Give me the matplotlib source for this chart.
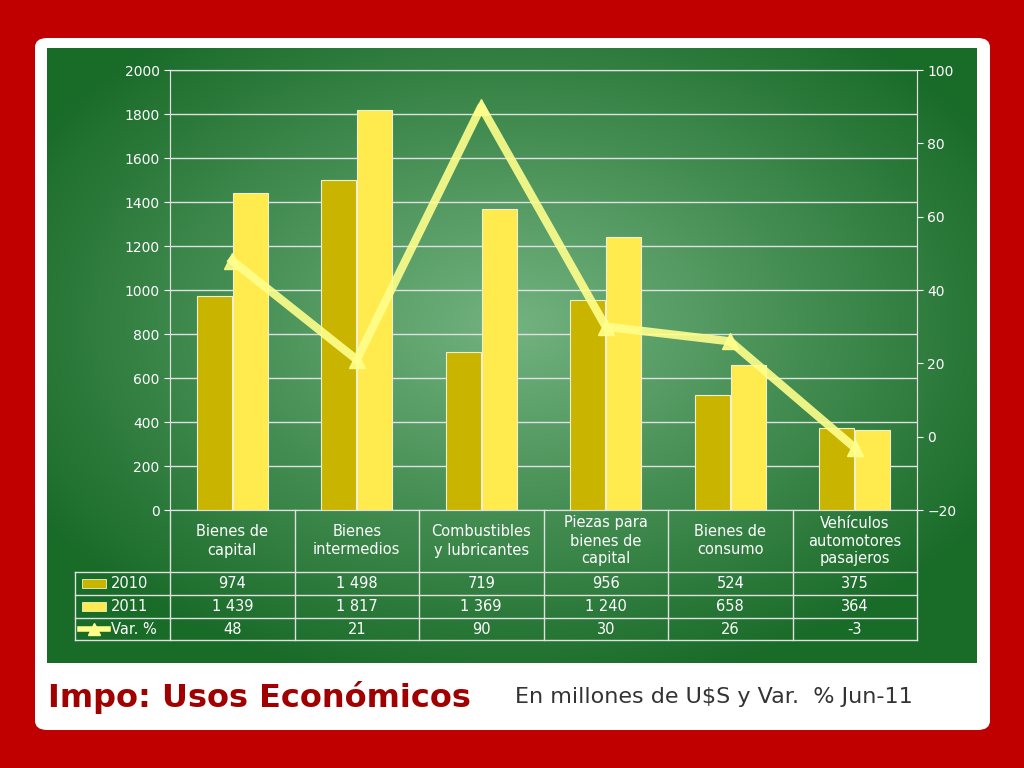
import matplotlib
matplotlib.use("Agg")
import matplotlib.pyplot as plt
import numpy as np
from matplotlib.patches import FancyBboxPatch, Rectangle
from matplotlib.lines import Line2D

categories = ["Bienes de\ncapital", "Bienes\nintermedios", "Combustibles\ny lubricantes",
              "Piezas para\nbienes de\ncapital", "Bienes de\nconsumo", "Vehículos\nautomotores\npasajeros"]
v2010 = [974, 1498, 719, 956, 524, 375]
v2011 = [1439, 1817, 1369, 1240, 658, 364]
var = [48, 21, 90, 30, 26, -3]
series_names = ["2010", "2011", "Var. %"]

W, H = 1024, 768
fig = plt.figure(figsize=(10.24, 7.68), dpi=100)
fig.patch.set_facecolor("#C00000")

def px(x, y):
    return x / W, 1 - y / H

wp = FancyBboxPatch(px(35, 730), 955 / W, 692 / H, boxstyle="round,pad=0,rounding_size=0.012",
                    transform=fig.transFigure, facecolor="white", edgecolor="none", zorder=-10)
fig.add_artist(wp)

bg = fig.add_axes([47 / W, 1 - 663 / H, 930 / W, 615 / H], zorder=-5)
yy, xx = np.mgrid[-1:1:300j, -1:1:400j]
r = np.clip(np.sqrt(xx**2 + (yy + 0.1)**2) / 1.2, 0, 1)
c0 = np.array([0.45, 0.70, 0.50]); c1 = np.array([0.10, 0.42, 0.16])
img = c0[None, None, :] * (1 - r[..., None]) + c1[None, None, :] * r[..., None]
bg.imshow(img, aspect="auto", extent=[0, 1, 0, 1])
bg.axis("off")

ax = fig.add_axes([170 / W, 1 - 510 / H, 747 / W, 440 / H], zorder=1)
ax.patch.set_alpha(0)
x = np.arange(len(categories))
bw = 0.28
ax.bar(x - 0.145, v2010, bw, color="#C9B400", edgecolor="#F0F0D0", linewidth=0.8, zorder=3)
ax.bar(x + 0.145, v2011, bw, color="#FFEB4D", edgecolor="#F0F0D0", linewidth=0.8, zorder=3)
ax.set_xlim(-0.5, len(categories) - 0.5)
ax.set_ylim(0, 2000)
ax.set_yticks(range(0, 2001, 200))
ax.grid(axis="y", color="#E0E0E0", linewidth=1, zorder=0)
ax.set_xticks([])
for s in ax.spines.values():
    s.set_color("#E0E0E0")
ax.tick_params(axis="y", colors="white", labelsize=10, length=4)

ax2 = ax.twinx()
ax2.set_ylim(-20, 100)
ax2.set_yticks(range(-20, 101, 20))
ax2.plot(x, var, color="#FFFF8C", linewidth=6, marker="^", markersize=12, zorder=5, alpha=0.9)
ax2.tick_params(axis="y", colors="white", labelsize=10, length=4)
for s in ax2.spines.values():
    s.set_color("#E0E0E0")

lc = "#E0E0E0"
def hline(y, x0, x1):
    fig.add_artist(Line2D([x0 / W, x1 / W], [1 - y / H] * 2, color=lc, lw=1, transform=fig.transFigure))
def vline(xp, y0, y1):
    fig.add_artist(Line2D([xp / W] * 2, [1 - y0 / H, 1 - y1 / H], color=lc, lw=1, transform=fig.transFigure))

cw = 747 / len(categories)
for i in range(len(categories) + 1):
    vline(170 + i * cw, 510, 640)
vline(75, 572, 640)
for yv in (572, 595, 618, 640):
    hline(yv, 75, 917)

def fmt(v):
    return f"{v:,}".replace(",", " ")

rows_y = [583.5, 606.5, 629]
for i, c in enumerate(categories):
    cx = (170 + (i + 0.5) * cw) / W
    fig.text(cx, 1 - 541 / H, c, color="white", fontsize=10.5, ha="center", va="center", linespacing=1.25)
    for vals, yv in zip([v2010, v2011, var], rows_y):
        fig.text(cx, 1 - yv / H, fmt(vals[i]), color="white", fontsize=10.5, ha="center", va="center")

fig.add_artist(Rectangle(px(82, 588), 24 / W, 9 / H, transform=fig.transFigure, facecolor="#C9B400", edgecolor="#F0F0D0", lw=0.6))
fig.add_artist(Rectangle(px(82, 611), 24 / W, 9 / H, transform=fig.transFigure, facecolor="#FFEB4D", edgecolor="#F0F0D0", lw=0.6))
fig.add_artist(Line2D([80 / W, 108 / W], [1 - 629 / H] * 2, color="#FFFF8C", lw=4, transform=fig.transFigure))
fig.add_artist(Line2D([94 / W], [1 - 629 / H], color="#FFFF8C", marker="^", markersize=8, transform=fig.transFigure))
for name, yv in zip(series_names, rows_y):
    fig.text(111 / W, 1 - yv / H, name, color="white", fontsize=10.5, ha="left", va="center")

fig.text(48 / W, 1 - 697 / H, "Impo: Usos Económicos", color="#A00000", fontsize=23, fontweight="bold", ha="left", va="center")
fig.text(515 / W, 1 - 697 / H, "En millones de U$S y Var.  % Jun-11", color="#333333", fontsize=16, ha="left", va="center")

fig.savefig("out.png", dpi=100, facecolor=fig.get_facecolor())
